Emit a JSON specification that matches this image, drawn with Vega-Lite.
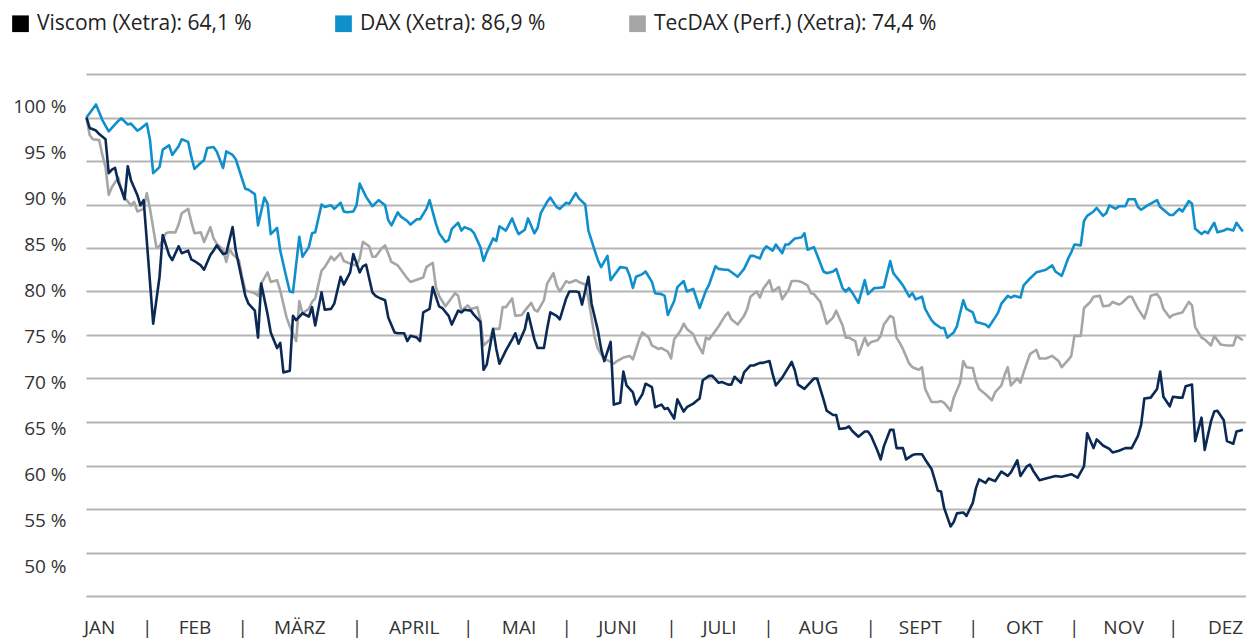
{
  "$schema": "https://vega.github.io/schema/vega-lite/v6.json",
  "width": 1160,
  "height": 522,
  "autosize": {"type": "none"},
  "padding": {"left": 86, "top": 74, "right": 0, "bottom": 43},
  "background": "#ffffff",
  "config": {
    "view": {"stroke": null},
    "font": "Open Sans",
    "axis": {"labelFont": "Open Sans", "labelColor": "#333333", "titleFont": "Open Sans"},
    "legend": {"labelFont": "Open Sans"}
  },
  "data": {"values": [
{"tag":1,"reihe":"TecDAX","wert":100},{"tag":2,"reihe":"TecDAX","wert":98.0},{"tag":3,"reihe":"TecDAX","wert":97.5},{"tag":5,"reihe":"TecDAX","wert":97.4},{"tag":6,"reihe":"TecDAX","wert":95.7},{"tag":7,"reihe":"TecDAX","wert":94.3},{"tag":8,"reihe":"TecDAX","wert":91.1},{"tag":9,"reihe":"TecDAX","wert":92.0},{"tag":11,"reihe":"TecDAX","wert":93.1},{"tag":12,"reihe":"TecDAX","wert":91.7},{"tag":13,"reihe":"TecDAX","wert":90.8},{"tag":15,"reihe":"TecDAX","wert":89.9},{"tag":16,"reihe":"TecDAX","wert":90.3},{"tag":17,"reihe":"TecDAX","wert":89.2},{"tag":19,"reihe":"TecDAX","wert":89.5},{"tag":20,"reihe":"TecDAX","wert":91.3},{"tag":21,"reihe":"TecDAX","wert":89.5},{"tag":23,"reihe":"TecDAX","wert":85.1},{"tag":24,"reihe":"TecDAX","wert":85.2},{"tag":26,"reihe":"TecDAX","wert":86.7},{"tag":27,"reihe":"TecDAX","wert":86.8},{"tag":29,"reihe":"TecDAX","wert":86.8},{"tag":30,"reihe":"TecDAX","wert":87.7},{"tag":31,"reihe":"TecDAX","wert":89.0},{"tag":33,"reihe":"TecDAX","wert":89.5},{"tag":34,"reihe":"TecDAX","wert":88.0},{"tag":35,"reihe":"TecDAX","wert":86.7},{"tag":37,"reihe":"TecDAX","wert":86.8},{"tag":38,"reihe":"TecDAX","wert":85.7},{"tag":40,"reihe":"TecDAX","wert":87.4},{"tag":41,"reihe":"TecDAX","wert":86.1},{"tag":42,"reihe":"TecDAX","wert":85.5},{"tag":44,"reihe":"TecDAX","wert":84.8},{"tag":45,"reihe":"TecDAX","wert":83.4},{"tag":46,"reihe":"TecDAX","wert":84.9},{"tag":47,"reihe":"TecDAX","wert":84.3},{"tag":49,"reihe":"TecDAX","wert":83.6},{"tag":50,"reihe":"TecDAX","wert":81.7},{"tag":51,"reihe":"TecDAX","wert":80.1},{"tag":53,"reihe":"TecDAX","wert":79.9},{"tag":54,"reihe":"TecDAX","wert":79.8},{"tag":55,"reihe":"TecDAX","wert":79.5},{"tag":56,"reihe":"TecDAX","wert":80.9},{"tag":58,"reihe":"TecDAX","wert":82.2},{"tag":59,"reihe":"TecDAX","wert":81.1},{"tag":61,"reihe":"TecDAX","wert":81.3},{"tag":62,"reihe":"TecDAX","wert":80.1},{"tag":64,"reihe":"TecDAX","wert":77.0},{"tag":65,"reihe":"TecDAX","wert":76.0},{"tag":67,"reihe":"TecDAX","wert":74.3},{"tag":68,"reihe":"TecDAX","wert":78.9},{"tag":69,"reihe":"TecDAX","wert":77.5},{"tag":71,"reihe":"TecDAX","wert":78.0},{"tag":72,"reihe":"TecDAX","wert":78.8},{"tag":73,"reihe":"TecDAX","wert":79.2},{"tag":75,"reihe":"TecDAX","wert":82.4},{"tag":76,"reihe":"TecDAX","wert":82.8},{"tag":78,"reihe":"TecDAX","wert":84.0},{"tag":79,"reihe":"TecDAX","wert":83.6},{"tag":81,"reihe":"TecDAX","wert":84.4},{"tag":82,"reihe":"TecDAX","wert":83.5},{"tag":84,"reihe":"TecDAX","wert":83.2},{"tag":86,"reihe":"TecDAX","wert":83.0},{"tag":87,"reihe":"TecDAX","wert":83.8},{"tag":88,"reihe":"TecDAX","wert":85.7},{"tag":90,"reihe":"TecDAX","wert":85.2},{"tag":91,"reihe":"TecDAX","wert":84.0},{"tag":92,"reihe":"TecDAX","wert":84.0},{"tag":94,"reihe":"TecDAX","wert":85.0},{"tag":95,"reihe":"TecDAX","wert":85.3},{"tag":97,"reihe":"TecDAX","wert":83.4},{"tag":99,"reihe":"TecDAX","wert":83.0},{"tag":102,"reihe":"TecDAX","wert":81.5},{"tag":103,"reihe":"TecDAX","wert":81.1},{"tag":107,"reihe":"TecDAX","wert":81.6},{"tag":108,"reihe":"TecDAX","wert":82.8},{"tag":110,"reihe":"TecDAX","wert":83.3},{"tag":111,"reihe":"TecDAX","wert":80.5},{"tag":112,"reihe":"TecDAX","wert":79.5},{"tag":114,"reihe":"TecDAX","wert":78.3},{"tag":115,"reihe":"TecDAX","wert":78.8},{"tag":117,"reihe":"TecDAX","wert":79.8},{"tag":118,"reihe":"TecDAX","wert":79.5},{"tag":119,"reihe":"TecDAX","wert":77.8},{"tag":121,"reihe":"TecDAX","wert":78.4},{"tag":122,"reihe":"TecDAX","wert":78.0},{"tag":124,"reihe":"TecDAX","wert":78.2},{"tag":125,"reihe":"TecDAX","wert":76.8},{"tag":126,"reihe":"TecDAX","wert":73.8},{"tag":128,"reihe":"TecDAX","wert":74.5},{"tag":129,"reihe":"TecDAX","wert":75.7},{"tag":131,"reihe":"TecDAX","wert":75.7},{"tag":132,"reihe":"TecDAX","wert":78.2},{"tag":133,"reihe":"TecDAX","wert":78.2},{"tag":135,"reihe":"TecDAX","wert":79.2},{"tag":136,"reihe":"TecDAX","wert":77.2},{"tag":138,"reihe":"TecDAX","wert":77.3},{"tag":139,"reihe":"TecDAX","wert":77.8},{"tag":141,"reihe":"TecDAX","wert":78.7},{"tag":142,"reihe":"TecDAX","wert":77.9},{"tag":143,"reihe":"TecDAX","wert":77.7},{"tag":145,"reihe":"TecDAX","wert":79.0},{"tag":146,"reihe":"TecDAX","wert":80.9},{"tag":148,"reihe":"TecDAX","wert":82.1},{"tag":149,"reihe":"TecDAX","wert":80.7},{"tag":150,"reihe":"TecDAX","wert":80.0},{"tag":152,"reihe":"TecDAX","wert":81.2},{"tag":153,"reihe":"TecDAX","wert":81.0},{"tag":155,"reihe":"TecDAX","wert":81.3},{"tag":156,"reihe":"TecDAX","wert":81.1},{"tag":158,"reihe":"TecDAX","wert":80.8},{"tag":159,"reihe":"TecDAX","wert":79.2},{"tag":161,"reihe":"TecDAX","wert":74.7},{"tag":162,"reihe":"TecDAX","wert":73.4},{"tag":164,"reihe":"TecDAX","wert":72.2},{"tag":165,"reihe":"TecDAX","wert":72.1},{"tag":167,"reihe":"TecDAX","wert":71.7},{"tag":168,"reihe":"TecDAX","wert":72.0},{"tag":170,"reihe":"TecDAX","wert":72.4},{"tag":172,"reihe":"TecDAX","wert":72.6},{"tag":173,"reihe":"TecDAX","wert":72.2},{"tag":175,"reihe":"TecDAX","wert":74.5},{"tag":176,"reihe":"TecDAX","wert":75.3},{"tag":178,"reihe":"TecDAX","wert":74.7},{"tag":179,"reihe":"TecDAX","wert":73.8},{"tag":181,"reihe":"TecDAX","wert":73.4},{"tag":182,"reihe":"TecDAX","wert":73.5},{"tag":184,"reihe":"TecDAX","wert":73.1},{"tag":185,"reihe":"TecDAX","wert":72.3},{"tag":186,"reihe":"TecDAX","wert":74.5},{"tag":188,"reihe":"TecDAX","wert":75.5},{"tag":189,"reihe":"TecDAX","wert":76.3},{"tag":190,"reihe":"TecDAX","wert":75.7},{"tag":192,"reihe":"TecDAX","wert":75.1},{"tag":193,"reihe":"TecDAX","wert":74.2},{"tag":195,"reihe":"TecDAX","wert":72.9},{"tag":196,"reihe":"TecDAX","wert":74.7},{"tag":197,"reihe":"TecDAX","wert":74.5},{"tag":199,"reihe":"TecDAX","wert":75.5},{"tag":200,"reihe":"TecDAX","wert":76.0},{"tag":202,"reihe":"TecDAX","wert":77.2},{"tag":203,"reihe":"TecDAX","wert":77.6},{"tag":204,"reihe":"TecDAX","wert":76.8},{"tag":206,"reihe":"TecDAX","wert":76.2},{"tag":208,"reihe":"TecDAX","wert":77.2},{"tag":209,"reihe":"TecDAX","wert":78.0},{"tag":210,"reihe":"TecDAX","wert":79.4},{"tag":212,"reihe":"TecDAX","wert":80.0},{"tag":213,"reihe":"TecDAX","wert":79.3},{"tag":214,"reihe":"TecDAX","wert":80.3},{"tag":216,"reihe":"TecDAX","wert":81.3},{"tag":217,"reihe":"TecDAX","wert":80.0},{"tag":219,"reihe":"TecDAX","wert":80.5},{"tag":220,"reihe":"TecDAX","wert":79.1},{"tag":222,"reihe":"TecDAX","wert":80.2},{"tag":223,"reihe":"TecDAX","wert":81.2},{"tag":225,"reihe":"TecDAX","wert":81.2},{"tag":226,"reihe":"TecDAX","wert":81.1},{"tag":228,"reihe":"TecDAX","wert":80.7},{"tag":229,"reihe":"TecDAX","wert":79.8},{"tag":230,"reihe":"TecDAX","wert":79.7},{"tag":232,"reihe":"TecDAX","wert":78.8},{"tag":233,"reihe":"TecDAX","wert":77.6},{"tag":234,"reihe":"TecDAX","wert":76.3},{"tag":236,"reihe":"TecDAX","wert":77.0},{"tag":237,"reihe":"TecDAX","wert":77.8},{"tag":239,"reihe":"TecDAX","wert":76.1},{"tag":240,"reihe":"TecDAX","wert":74.7},{"tag":241,"reihe":"TecDAX","wert":74.7},{"tag":243,"reihe":"TecDAX","wert":74.3},{"tag":244,"reihe":"TecDAX","wert":72.7},{"tag":246,"reihe":"TecDAX","wert":74.7},{"tag":247,"reihe":"TecDAX","wert":73.8},{"tag":248,"reihe":"TecDAX","wert":74.2},{"tag":250,"reihe":"TecDAX","wert":74.4},{"tag":251,"reihe":"TecDAX","wert":74.9},{"tag":252,"reihe":"TecDAX","wert":76.2},{"tag":254,"reihe":"TecDAX","wert":77.2},{"tag":255,"reihe":"TecDAX","wert":77.0},{"tag":256,"reihe":"TecDAX","wert":74.7},{"tag":257,"reihe":"TecDAX","wert":74.1},{"tag":258,"reihe":"TecDAX","wert":73.4},{"tag":260,"reihe":"TecDAX","wert":71.7},{"tag":261,"reihe":"TecDAX","wert":71.3},{"tag":263,"reihe":"TecDAX","wert":71.0},{"tag":264,"reihe":"TecDAX","wert":71.3},{"tag":265,"reihe":"TecDAX","wert":68.8},{"tag":267,"reihe":"TecDAX","wert":67.3},{"tag":269,"reihe":"TecDAX","wert":67.3},{"tag":270,"reihe":"TecDAX","wert":67.4},{"tag":271,"reihe":"TecDAX","wert":67.2},{"tag":273,"reihe":"TecDAX","wert":66.3},{"tag":274,"reihe":"TecDAX","wert":67.8},{"tag":276,"reihe":"TecDAX","wert":69.5},{"tag":277,"reihe":"TecDAX","wert":72.0},{"tag":278,"reihe":"TecDAX","wert":71.3},{"tag":280,"reihe":"TecDAX","wert":71.2},{"tag":281,"reihe":"TecDAX","wert":69.7},{"tag":282,"reihe":"TecDAX","wert":68.8},{"tag":284,"reihe":"TecDAX","wert":68.2},{"tag":286,"reihe":"TecDAX","wert":67.5},{"tag":287,"reihe":"TecDAX","wert":68.4},{"tag":289,"reihe":"TecDAX","wert":69.2},{"tag":290,"reihe":"TecDAX","wert":70.4},{"tag":291,"reihe":"TecDAX","wert":71.3},{"tag":292,"reihe":"TecDAX","wert":69.2},{"tag":294,"reihe":"TecDAX","wert":70.0},{"tag":295,"reihe":"TecDAX","wert":69.5},{"tag":296,"reihe":"TecDAX","wert":70.7},{"tag":298,"reihe":"TecDAX","wert":72.8},{"tag":300,"reihe":"TecDAX","wert":73.3},{"tag":301,"reihe":"TecDAX","wert":72.3},{"tag":303,"reihe":"TecDAX","wert":72.3},{"tag":305,"reihe":"TecDAX","wert":72.6},{"tag":307,"reihe":"TecDAX","wert":72.0},{"tag":308,"reihe":"TecDAX","wert":71.3},{"tag":310,"reihe":"TecDAX","wert":72.1},{"tag":311,"reihe":"TecDAX","wert":72.6},{"tag":312,"reihe":"TecDAX","wert":74.9},{"tag":314,"reihe":"TecDAX","wert":74.9},{"tag":315,"reihe":"TecDAX","wert":78.1},{"tag":317,"reihe":"TecDAX","wert":78.8},{"tag":318,"reihe":"TecDAX","wert":79.4},{"tag":320,"reihe":"TecDAX","wert":79.5},{"tag":321,"reihe":"TecDAX","wert":78.3},{"tag":323,"reihe":"TecDAX","wert":78.4},{"tag":324,"reihe":"TecDAX","wert":78.8},{"tag":326,"reihe":"TecDAX","wert":78.5},{"tag":327,"reihe":"TecDAX","wert":78.7},{"tag":329,"reihe":"TecDAX","wert":79.4},{"tag":330,"reihe":"TecDAX","wert":79.4},{"tag":332,"reihe":"TecDAX","wert":78.0},{"tag":334,"reihe":"TecDAX","wert":76.9},{"tag":335,"reihe":"TecDAX","wert":78.1},{"tag":336,"reihe":"TecDAX","wert":79.5},{"tag":338,"reihe":"TecDAX","wert":79.7},{"tag":339,"reihe":"TecDAX","wert":79.2},{"tag":340,"reihe":"TecDAX","wert":78.0},{"tag":342,"reihe":"TecDAX","wert":77.0},{"tag":343,"reihe":"TecDAX","wert":77.3},{"tag":345,"reihe":"TecDAX","wert":77.5},{"tag":346,"reihe":"TecDAX","wert":77.6},{"tag":348,"reihe":"TecDAX","wert":78.8},{"tag":349,"reihe":"TecDAX","wert":78.4},{"tag":350,"reihe":"TecDAX","wert":75.9},{"tag":352,"reihe":"TecDAX","wert":74.7},{"tag":353,"reihe":"TecDAX","wert":74.5},{"tag":355,"reihe":"TecDAX","wert":73.8},{"tag":356,"reihe":"TecDAX","wert":74.9},{"tag":358,"reihe":"TecDAX","wert":73.9},{"tag":360,"reihe":"TecDAX","wert":73.8},{"tag":362,"reihe":"TecDAX","wert":73.8},{"tag":363,"reihe":"TecDAX","wert":74.9},{"tag":365,"reihe":"TecDAX","wert":74.4},
{"tag":1,"reihe":"DAX","wert":100},{"tag":4,"reihe":"DAX","wert":101.5},{"tag":6,"reihe":"DAX","wert":99.7},{"tag":8,"reihe":"DAX","wert":98.4},{"tag":11,"reihe":"DAX","wert":99.6},{"tag":12,"reihe":"DAX","wert":99.9},{"tag":14,"reihe":"DAX","wert":99.2},{"tag":15,"reihe":"DAX","wert":99.3},{"tag":17,"reihe":"DAX","wert":98.5},{"tag":18,"reihe":"DAX","wert":98.7},{"tag":20,"reihe":"DAX","wert":99.3},{"tag":21,"reihe":"DAX","wert":97.4},{"tag":22,"reihe":"DAX","wert":93.6},{"tag":24,"reihe":"DAX","wert":94.3},{"tag":25,"reihe":"DAX","wert":96.3},{"tag":27,"reihe":"DAX","wert":96.8},{"tag":28,"reihe":"DAX","wert":95.7},{"tag":30,"reihe":"DAX","wert":96.7},{"tag":31,"reihe":"DAX","wert":97.5},{"tag":33,"reihe":"DAX","wert":97.2},{"tag":34,"reihe":"DAX","wert":95.5},{"tag":35,"reihe":"DAX","wert":94.1},{"tag":37,"reihe":"DAX","wert":94.8},{"tag":38,"reihe":"DAX","wert":95.1},{"tag":39,"reihe":"DAX","wert":96.5},{"tag":41,"reihe":"DAX","wert":96.6},{"tag":42,"reihe":"DAX","wert":96.1},{"tag":44,"reihe":"DAX","wert":94.2},{"tag":45,"reihe":"DAX","wert":96.1},{"tag":47,"reihe":"DAX","wert":95.7},{"tag":48,"reihe":"DAX","wert":95.2},{"tag":51,"reihe":"DAX","wert":91.8},{"tag":52,"reihe":"DAX","wert":91.7},{"tag":54,"reihe":"DAX","wert":91.2},{"tag":55,"reihe":"DAX","wert":87.6},{"tag":57,"reihe":"DAX","wert":90.8},{"tag":58,"reihe":"DAX","wert":90.1},{"tag":59,"reihe":"DAX","wert":86.6},{"tag":61,"reihe":"DAX","wert":87.3},{"tag":62,"reihe":"DAX","wert":84.7},{"tag":64,"reihe":"DAX","wert":81.5},{"tag":65,"reihe":"DAX","wert":80.0},{"tag":66,"reihe":"DAX","wert":79.9},{"tag":68,"reihe":"DAX","wert":86.3},{"tag":69,"reihe":"DAX","wert":84.0},{"tag":71,"reihe":"DAX","wert":85.1},{"tag":72,"reihe":"DAX","wert":86.7},{"tag":73,"reihe":"DAX","wert":86.8},{"tag":75,"reihe":"DAX","wert":90.0},{"tag":76,"reihe":"DAX","wert":89.7},{"tag":78,"reihe":"DAX","wert":89.9},{"tag":79,"reihe":"DAX","wert":89.5},{"tag":81,"reihe":"DAX","wert":90.2},{"tag":82,"reihe":"DAX","wert":89.2},{"tag":83,"reihe":"DAX","wert":89.1},{"tag":85,"reihe":"DAX","wert":89.2},{"tag":86,"reihe":"DAX","wert":89.9},{"tag":87,"reihe":"DAX","wert":92.4},{"tag":89,"reihe":"DAX","wert":90.9},{"tag":91,"reihe":"DAX","wert":89.8},{"tag":93,"reihe":"DAX","wert":90.5},{"tag":95,"reihe":"DAX","wert":89.9},{"tag":96,"reihe":"DAX","wert":88.2},{"tag":97,"reihe":"DAX","wert":87.6},{"tag":99,"reihe":"DAX","wert":89.1},{"tag":100,"reihe":"DAX","wert":88.6},{"tag":102,"reihe":"DAX","wert":88.1},{"tag":103,"reihe":"DAX","wert":87.7},{"tag":105,"reihe":"DAX","wert":88.3},{"tag":106,"reihe":"DAX","wert":88.3},{"tag":108,"reihe":"DAX","wert":89.5},{"tag":109,"reihe":"DAX","wert":90.5},{"tag":111,"reihe":"DAX","wert":87.8},{"tag":112,"reihe":"DAX","wert":86.7},{"tag":114,"reihe":"DAX","wert":85.7},{"tag":115,"reihe":"DAX","wert":85.9},{"tag":116,"reihe":"DAX","wert":87.2},{"tag":118,"reihe":"DAX","wert":87.9},{"tag":119,"reihe":"DAX","wert":87.0},{"tag":120,"reihe":"DAX","wert":87.4},{"tag":122,"reihe":"DAX","wert":87.1},{"tag":123,"reihe":"DAX","wert":86.7},{"tag":125,"reihe":"DAX","wert":85.1},{"tag":126,"reihe":"DAX","wert":83.5},{"tag":127,"reihe":"DAX","wert":84.5},{"tag":129,"reihe":"DAX","wert":86.1},{"tag":130,"reihe":"DAX","wert":85.8},{"tag":131,"reihe":"DAX","wert":87.5},{"tag":133,"reihe":"DAX","wert":87.0},{"tag":135,"reihe":"DAX","wert":88.4},{"tag":136,"reihe":"DAX","wert":87.4},{"tag":137,"reihe":"DAX","wert":86.6},{"tag":139,"reihe":"DAX","wert":87.1},{"tag":140,"reihe":"DAX","wert":88.4},{"tag":142,"reihe":"DAX","wert":86.7},{"tag":143,"reihe":"DAX","wert":87.3},{"tag":144,"reihe":"DAX","wert":89.0},{"tag":146,"reihe":"DAX","wert":90.3},{"tag":147,"reihe":"DAX","wert":90.8},{"tag":149,"reihe":"DAX","wert":89.7},{"tag":150,"reihe":"DAX","wert":89.5},{"tag":152,"reihe":"DAX","wert":90.2},{"tag":153,"reihe":"DAX","wert":90.1},{"tag":155,"reihe":"DAX","wert":91.3},{"tag":156,"reihe":"DAX","wert":90.7},{"tag":158,"reihe":"DAX","wert":90.0},{"tag":159,"reihe":"DAX","wert":87.0},{"tag":161,"reihe":"DAX","wert":84.7},{"tag":162,"reihe":"DAX","wert":83.6},{"tag":163,"reihe":"DAX","wert":82.8},{"tag":165,"reihe":"DAX","wert":84.1},{"tag":166,"reihe":"DAX","wert":81.3},{"tag":167,"reihe":"DAX","wert":81.8},{"tag":169,"reihe":"DAX","wert":82.8},{"tag":171,"reihe":"DAX","wert":82.7},{"tag":172,"reihe":"DAX","wert":81.8},{"tag":173,"reihe":"DAX","wert":80.4},{"tag":174,"reihe":"DAX","wert":81.7},{"tag":176,"reihe":"DAX","wert":82.0},{"tag":177,"reihe":"DAX","wert":82.3},{"tag":179,"reihe":"DAX","wert":81.1},{"tag":180,"reihe":"DAX","wert":79.8},{"tag":182,"reihe":"DAX","wert":79.7},{"tag":183,"reihe":"DAX","wert":79.5},{"tag":184,"reihe":"DAX","wert":77.3},{"tag":186,"reihe":"DAX","wert":78.9},{"tag":187,"reihe":"DAX","wert":80.5},{"tag":189,"reihe":"DAX","wert":81.2},{"tag":190,"reihe":"DAX","wert":80.0},{"tag":192,"reihe":"DAX","wert":80.3},{"tag":193,"reihe":"DAX","wert":79.2},{"tag":194,"reihe":"DAX","wert":78.1},{"tag":196,"reihe":"DAX","wert":80.1},{"tag":197,"reihe":"DAX","wert":80.8},{"tag":199,"reihe":"DAX","wert":82.9},{"tag":200,"reihe":"DAX","wert":82.6},{"tag":202,"reihe":"DAX","wert":82.5},{"tag":203,"reihe":"DAX","wert":82.5},{"tag":206,"reihe":"DAX","wert":81.7},{"tag":208,"reihe":"DAX","wert":82.6},{"tag":210,"reihe":"DAX","wert":84.1},{"tag":211,"reihe":"DAX","wert":84.1},{"tag":213,"reihe":"DAX","wert":83.8},{"tag":214,"reihe":"DAX","wert":84.7},{"tag":215,"reihe":"DAX","wert":85.2},{"tag":217,"reihe":"DAX","wert":84.7},{"tag":218,"reihe":"DAX","wert":85.4},{"tag":220,"reihe":"DAX","wert":84.4},{"tag":221,"reihe":"DAX","wert":85.4},{"tag":222,"reihe":"DAX","wert":85.4},{"tag":224,"reihe":"DAX","wert":86.1},{"tag":226,"reihe":"DAX","wert":86.2},{"tag":227,"reihe":"DAX","wert":86.7},{"tag":228,"reihe":"DAX","wert":84.8},{"tag":230,"reihe":"DAX","wert":85.1},{"tag":231,"reihe":"DAX","wert":84.2},{"tag":233,"reihe":"DAX","wert":82.3},{"tag":234,"reihe":"DAX","wert":82.1},{"tag":236,"reihe":"DAX","wert":82.3},{"tag":237,"reihe":"DAX","wert":82.6},{"tag":239,"reihe":"DAX","wert":80.4},{"tag":240,"reihe":"DAX","wert":80.0},{"tag":241,"reihe":"DAX","wert":80.4},{"tag":242,"reihe":"DAX","wert":79.9},{"tag":244,"reihe":"DAX","wert":78.7},{"tag":246,"reihe":"DAX","wert":81.3},{"tag":247,"reihe":"DAX","wert":79.7},{"tag":249,"reihe":"DAX","wert":80.4},{"tag":250,"reihe":"DAX","wert":80.4},{"tag":252,"reihe":"DAX","wert":80.5},{"tag":254,"reihe":"DAX","wert":83.5},{"tag":255,"reihe":"DAX","wert":82.1},{"tag":257,"reihe":"DAX","wert":81.2},{"tag":258,"reihe":"DAX","wert":80.7},{"tag":260,"reihe":"DAX","wert":79.4},{"tag":261,"reihe":"DAX","wert":79.8},{"tag":262,"reihe":"DAX","wert":79.1},{"tag":264,"reihe":"DAX","wert":79.4},{"tag":265,"reihe":"DAX","wert":78.0},{"tag":267,"reihe":"DAX","wert":76.7},{"tag":268,"reihe":"DAX","wert":76.3},{"tag":270,"reihe":"DAX","wert":75.8},{"tag":271,"reihe":"DAX","wert":75.8},{"tag":272,"reihe":"DAX","wert":74.7},{"tag":274,"reihe":"DAX","wert":75.3},{"tag":275,"reihe":"DAX","wert":76.0},{"tag":277,"reihe":"DAX","wert":79.0},{"tag":278,"reihe":"DAX","wert":78.0},{"tag":279,"reihe":"DAX","wert":77.8},{"tag":280,"reihe":"DAX","wert":77.6},{"tag":281,"reihe":"DAX","wert":76.5},{"tag":282,"reihe":"DAX","wert":76.4},{"tag":284,"reihe":"DAX","wert":76.2},{"tag":285,"reihe":"DAX","wert":75.9},{"tag":287,"reihe":"DAX","wert":77.0},{"tag":288,"reihe":"DAX","wert":77.6},{"tag":289,"reihe":"DAX","wert":78.6},{"tag":291,"reihe":"DAX","wert":79.5},{"tag":292,"reihe":"DAX","wert":79.3},{"tag":293,"reihe":"DAX","wert":79.5},{"tag":295,"reihe":"DAX","wert":79.3},{"tag":296,"reihe":"DAX","wert":80.7},{"tag":298,"reihe":"DAX","wert":81.5},{"tag":300,"reihe":"DAX","wert":82.2},{"tag":301,"reihe":"DAX","wert":82.3},{"tag":303,"reihe":"DAX","wert":82.5},{"tag":305,"reihe":"DAX","wert":83.0},{"tag":306,"reihe":"DAX","wert":82.3},{"tag":308,"reihe":"DAX","wert":81.8},{"tag":310,"reihe":"DAX","wert":83.8},{"tag":311,"reihe":"DAX","wert":84.5},{"tag":312,"reihe":"DAX","wert":85.4},{"tag":314,"reihe":"DAX","wert":85.3},{"tag":315,"reihe":"DAX","wert":88.1},{"tag":316,"reihe":"DAX","wert":88.7},{"tag":318,"reihe":"DAX","wert":89.2},{"tag":319,"reihe":"DAX","wert":89.6},{"tag":321,"reihe":"DAX","wert":88.7},{"tag":322,"reihe":"DAX","wert":89.0},{"tag":323,"reihe":"DAX","wert":89.9},{"tag":325,"reihe":"DAX","wert":89.5},{"tag":326,"reihe":"DAX","wert":89.8},{"tag":328,"reihe":"DAX","wert":89.8},{"tag":329,"reihe":"DAX","wert":90.6},{"tag":331,"reihe":"DAX","wert":90.6},{"tag":332,"reihe":"DAX","wert":89.7},{"tag":333,"reihe":"DAX","wert":89.4},{"tag":335,"reihe":"DAX","wert":89.9},{"tag":338,"reihe":"DAX","wert":90.5},{"tag":339,"reihe":"DAX","wert":89.7},{"tag":342,"reihe":"DAX","wert":88.8},{"tag":343,"reihe":"DAX","wert":88.8},{"tag":345,"reihe":"DAX","wert":89.5},{"tag":346,"reihe":"DAX","wert":89.2},{"tag":348,"reihe":"DAX","wert":90.4},{"tag":349,"reihe":"DAX","wert":90.1},{"tag":350,"reihe":"DAX","wert":87.2},{"tag":352,"reihe":"DAX","wert":86.6},{"tag":353,"reihe":"DAX","wert":86.9},{"tag":354,"reihe":"DAX","wert":86.7},{"tag":356,"reihe":"DAX","wert":87.9},{"tag":357,"reihe":"DAX","wert":86.8},{"tag":359,"reihe":"DAX","wert":87.0},{"tag":360,"reihe":"DAX","wert":87.2},{"tag":362,"reihe":"DAX","wert":87.0},{"tag":363,"reihe":"DAX","wert":87.9},{"tag":365,"reihe":"DAX","wert":86.9},
{"tag":1,"reihe":"Viscom","wert":100},{"tag":2,"reihe":"Viscom","wert":98.8},{"tag":4,"reihe":"Viscom","wert":98.5},{"tag":5,"reihe":"Viscom","wert":98.1},{"tag":7,"reihe":"Viscom","wert":97.5},{"tag":8,"reihe":"Viscom","wert":93.6},{"tag":9,"reihe":"Viscom","wert":94.0},{"tag":10,"reihe":"Viscom","wert":94.2},{"tag":11,"reihe":"Viscom","wert":92.6},{"tag":12,"reihe":"Viscom","wert":91.7},{"tag":13,"reihe":"Viscom","wert":90.6},{"tag":14,"reihe":"Viscom","wert":94.4},{"tag":15,"reihe":"Viscom","wert":92.8},{"tag":17,"reihe":"Viscom","wert":91.1},{"tag":18,"reihe":"Viscom","wert":89.9},{"tag":19,"reihe":"Viscom","wert":90.5},{"tag":22,"reihe":"Viscom","wert":76.3},{"tag":24,"reihe":"Viscom","wert":81.7},{"tag":25,"reihe":"Viscom","wert":86.5},{"tag":27,"reihe":"Viscom","wert":84.2},{"tag":28,"reihe":"Viscom","wert":83.6},{"tag":30,"reihe":"Viscom","wert":85.2},{"tag":31,"reihe":"Viscom","wert":84.4},{"tag":33,"reihe":"Viscom","wert":84.7},{"tag":34,"reihe":"Viscom","wert":83.7},{"tag":35,"reihe":"Viscom","wert":83.5},{"tag":37,"reihe":"Viscom","wert":83.0},{"tag":38,"reihe":"Viscom","wert":82.5},{"tag":40,"reihe":"Viscom","wert":84.2},{"tag":41,"reihe":"Viscom","wert":84.7},{"tag":42,"reihe":"Viscom","wert":85.3},{"tag":44,"reihe":"Viscom","wert":84.3},{"tag":45,"reihe":"Viscom","wert":84.4},{"tag":47,"reihe":"Viscom","wert":87.4},{"tag":48,"reihe":"Viscom","wert":84.7},{"tag":51,"reihe":"Viscom","wert":79.5},{"tag":52,"reihe":"Viscom","wert":78.6},{"tag":54,"reihe":"Viscom","wert":77.8},{"tag":55,"reihe":"Viscom","wert":74.7},{"tag":56,"reihe":"Viscom","wert":80.9},{"tag":58,"reihe":"Viscom","wert":77.4},{"tag":59,"reihe":"Viscom","wert":75.3},{"tag":61,"reihe":"Viscom","wert":73.5},{"tag":62,"reihe":"Viscom","wert":74.1},{"tag":63,"reihe":"Viscom","wert":70.7},{"tag":65,"reihe":"Viscom","wert":70.9},{"tag":66,"reihe":"Viscom","wert":77.2},{"tag":67,"reihe":"Viscom","wert":76.7},{"tag":69,"reihe":"Viscom","wert":77.5},{"tag":71,"reihe":"Viscom","wert":77.1},{"tag":72,"reihe":"Viscom","wert":78.2},{"tag":73,"reihe":"Viscom","wert":76.1},{"tag":75,"reihe":"Viscom","wert":79.9},{"tag":76,"reihe":"Viscom","wert":77.9},{"tag":78,"reihe":"Viscom","wert":78.0},{"tag":79,"reihe":"Viscom","wert":78.6},{"tag":81,"reihe":"Viscom","wert":81.7},{"tag":82,"reihe":"Viscom","wert":80.8},{"tag":84,"reihe":"Viscom","wert":82.2},{"tag":85,"reihe":"Viscom","wert":84.3},{"tag":87,"reihe":"Viscom","wert":82.2},{"tag":88,"reihe":"Viscom","wert":82.9},{"tag":89,"reihe":"Viscom","wert":83.1},{"tag":91,"reihe":"Viscom","wert":79.9},{"tag":92,"reihe":"Viscom","wert":79.5},{"tag":93,"reihe":"Viscom","wert":79.3},{"tag":95,"reihe":"Viscom","wert":79.0},{"tag":96,"reihe":"Viscom","wert":77.0},{"tag":98,"reihe":"Viscom","wert":75.3},{"tag":99,"reihe":"Viscom","wert":75.2},{"tag":101,"reihe":"Viscom","wert":75.2},{"tag":102,"reihe":"Viscom","wert":74.3},{"tag":103,"reihe":"Viscom","wert":74.9},{"tag":105,"reihe":"Viscom","wert":74.7},{"tag":106,"reihe":"Viscom","wert":74.3},{"tag":107,"reihe":"Viscom","wert":77.6},{"tag":109,"reihe":"Viscom","wert":78.0},{"tag":110,"reihe":"Viscom","wert":80.5},{"tag":112,"reihe":"Viscom","wert":78.3},{"tag":113,"reihe":"Viscom","wert":78.1},{"tag":115,"reihe":"Viscom","wert":77.2},{"tag":116,"reihe":"Viscom","wert":76.2},{"tag":118,"reihe":"Viscom","wert":77.8},{"tag":119,"reihe":"Viscom","wert":77.6},{"tag":120,"reihe":"Viscom","wert":77.9},{"tag":122,"reihe":"Viscom","wert":77.8},{"tag":123,"reihe":"Viscom","wert":77.3},{"tag":125,"reihe":"Viscom","wert":76.5},{"tag":126,"reihe":"Viscom","wert":71.0},{"tag":127,"reihe":"Viscom","wert":71.6},{"tag":129,"reihe":"Viscom","wert":75.7},{"tag":130,"reihe":"Viscom","wert":73.4},{"tag":131,"reihe":"Viscom","wert":71.7},{"tag":133,"reihe":"Viscom","wert":73.2},{"tag":135,"reihe":"Viscom","wert":74.5},{"tag":136,"reihe":"Viscom","wert":75.2},{"tag":137,"reihe":"Viscom","wert":74.0},{"tag":139,"reihe":"Viscom","wert":75.7},{"tag":140,"reihe":"Viscom","wert":77.5},{"tag":142,"reihe":"Viscom","wert":74.5},{"tag":143,"reihe":"Viscom","wert":73.5},{"tag":145,"reihe":"Viscom","wert":73.5},{"tag":146,"reihe":"Viscom","wert":75.7},{"tag":147,"reihe":"Viscom","wert":77.6},{"tag":149,"reihe":"Viscom","wert":77.2},{"tag":150,"reihe":"Viscom","wert":76.8},{"tag":152,"reihe":"Viscom","wert":79.2},{"tag":153,"reihe":"Viscom","wert":80.0},{"tag":155,"reihe":"Viscom","wert":80.0},{"tag":156,"reihe":"Viscom","wert":79.9},{"tag":157,"reihe":"Viscom","wert":78.5},{"tag":159,"reihe":"Viscom","wert":81.7},{"tag":160,"reihe":"Viscom","wert":78.6},{"tag":162,"reihe":"Viscom","wert":75.5},{"tag":163,"reihe":"Viscom","wert":73.4},{"tag":164,"reihe":"Viscom","wert":72.0},{"tag":166,"reihe":"Viscom","wert":74.2},{"tag":167,"reihe":"Viscom","wert":67.0},{"tag":169,"reihe":"Viscom","wert":67.2},{"tag":170,"reihe":"Viscom","wert":70.8},{"tag":171,"reihe":"Viscom","wert":69.2},{"tag":173,"reihe":"Viscom","wert":68.4},{"tag":174,"reihe":"Viscom","wert":67.0},{"tag":176,"reihe":"Viscom","wert":68.2},{"tag":177,"reihe":"Viscom","wert":69.4},{"tag":179,"reihe":"Viscom","wert":69.0},{"tag":180,"reihe":"Viscom","wert":66.7},{"tag":182,"reihe":"Viscom","wert":67.0},{"tag":183,"reihe":"Viscom","wert":66.5},{"tag":184,"reihe":"Viscom","wert":66.6},{"tag":186,"reihe":"Viscom","wert":65.4},{"tag":187,"reihe":"Viscom","wert":67.6},{"tag":189,"reihe":"Viscom","wert":66.2},{"tag":190,"reihe":"Viscom","wert":66.7},{"tag":192,"reihe":"Viscom","wert":67.1},{"tag":193,"reihe":"Viscom","wert":67.4},{"tag":194,"reihe":"Viscom","wert":67.7},{"tag":195,"reihe":"Viscom","wert":69.8},{"tag":197,"reihe":"Viscom","wert":70.3},{"tag":198,"reihe":"Viscom","wert":70.3},{"tag":200,"reihe":"Viscom","wert":69.5},{"tag":201,"reihe":"Viscom","wert":69.6},{"tag":203,"reihe":"Viscom","wert":69.3},{"tag":204,"reihe":"Viscom","wert":69.3},{"tag":205,"reihe":"Viscom","wert":70.2},{"tag":207,"reihe":"Viscom","wert":69.5},{"tag":208,"reihe":"Viscom","wert":70.7},{"tag":210,"reihe":"Viscom","wert":71.5},{"tag":211,"reihe":"Viscom","wert":71.5},{"tag":213,"reihe":"Viscom","wert":71.8},{"tag":214,"reihe":"Viscom","wert":71.8},{"tag":216,"reihe":"Viscom","wert":72.0},{"tag":217,"reihe":"Viscom","wert":70.5},{"tag":218,"reihe":"Viscom","wert":69.2},{"tag":220,"reihe":"Viscom","wert":70.1},{"tag":221,"reihe":"Viscom","wert":70.7},{"tag":223,"reihe":"Viscom","wert":71.9},{"tag":224,"reihe":"Viscom","wert":70.9},{"tag":225,"reihe":"Viscom","wert":69.3},{"tag":227,"reihe":"Viscom","wert":68.8},{"tag":228,"reihe":"Viscom","wert":69.2},{"tag":230,"reihe":"Viscom","wert":70.0},{"tag":231,"reihe":"Viscom","wert":70.0},{"tag":233,"reihe":"Viscom","wert":67.6},{"tag":234,"reihe":"Viscom","wert":66.3},{"tag":236,"reihe":"Viscom","wert":65.8},{"tag":237,"reihe":"Viscom","wert":65.8},{"tag":238,"reihe":"Viscom","wert":64.2},{"tag":240,"reihe":"Viscom","wert":64.3},{"tag":241,"reihe":"Viscom","wert":64.5},{"tag":242,"reihe":"Viscom","wert":64.0},{"tag":244,"reihe":"Viscom","wert":63.3},{"tag":246,"reihe":"Viscom","wert":63.9},{"tag":247,"reihe":"Viscom","wert":63.9},{"tag":248,"reihe":"Viscom","wert":63.4},{"tag":250,"reihe":"Viscom","wert":61.7},{"tag":251,"reihe":"Viscom","wert":60.7},{"tag":252,"reihe":"Viscom","wert":62.2},{"tag":254,"reihe":"Viscom","wert":64.1},{"tag":255,"reihe":"Viscom","wert":64.1},{"tag":256,"reihe":"Viscom","wert":62.0},{"tag":258,"reihe":"Viscom","wert":62.0},{"tag":259,"reihe":"Viscom","wert":60.7},{"tag":261,"reihe":"Viscom","wert":61.2},{"tag":262,"reihe":"Viscom","wert":61.3},{"tag":264,"reihe":"Viscom","wert":61.3},{"tag":265,"reihe":"Viscom","wert":60.7},{"tag":267,"reihe":"Viscom","wert":59.6},{"tag":268,"reihe":"Viscom","wert":58.4},{"tag":269,"reihe":"Viscom","wert":57.1},{"tag":270,"reihe":"Viscom","wert":57.0},{"tag":271,"reihe":"Viscom","wert":55.1},{"tag":273,"reihe":"Viscom","wert":53.0},{"tag":274,"reihe":"Viscom","wert":53.5},{"tag":275,"reihe":"Viscom","wert":54.5},{"tag":277,"reihe":"Viscom","wert":54.6},{"tag":278,"reihe":"Viscom","wert":54.2},{"tag":280,"reihe":"Viscom","wert":55.7},{"tag":281,"reihe":"Viscom","wert":57.4},{"tag":282,"reihe":"Viscom","wert":58.4},{"tag":284,"reihe":"Viscom","wert":58.0},{"tag":285,"reihe":"Viscom","wert":58.5},{"tag":287,"reihe":"Viscom","wert":58.2},{"tag":289,"reihe":"Viscom","wert":59.3},{"tag":291,"reihe":"Viscom","wert":58.8},{"tag":292,"reihe":"Viscom","wert":59.2},{"tag":294,"reihe":"Viscom","wert":60.6},{"tag":295,"reihe":"Viscom","wert":58.8},{"tag":297,"reihe":"Viscom","wert":59.9},{"tag":298,"reihe":"Viscom","wert":60.1},{"tag":299,"reihe":"Viscom","wert":59.4},{"tag":301,"reihe":"Viscom","wert":58.3},{"tag":303,"reihe":"Viscom","wert":58.5},{"tag":306,"reihe":"Viscom","wert":58.8},{"tag":308,"reihe":"Viscom","wert":58.7},{"tag":311,"reihe":"Viscom","wert":59.0},{"tag":313,"reihe":"Viscom","wert":58.6},{"tag":315,"reihe":"Viscom","wert":59.9},{"tag":316,"reihe":"Viscom","wert":63.7},{"tag":318,"reihe":"Viscom","wert":62.0},{"tag":319,"reihe":"Viscom","wert":63.0},{"tag":321,"reihe":"Viscom","wert":62.3},{"tag":323,"reihe":"Viscom","wert":61.9},{"tag":324,"reihe":"Viscom","wert":61.5},{"tag":326,"reihe":"Viscom","wert":61.7},{"tag":328,"reihe":"Viscom","wert":62.0},{"tag":330,"reihe":"Viscom","wert":62.0},{"tag":332,"reihe":"Viscom","wert":63.4},{"tag":333,"reihe":"Viscom","wert":64.7},{"tag":334,"reihe":"Viscom","wert":67.7},{"tag":336,"reihe":"Viscom","wert":67.8},{"tag":338,"reihe":"Viscom","wert":68.8},{"tag":339,"reihe":"Viscom","wert":70.8},{"tag":340,"reihe":"Viscom","wert":67.9},{"tag":342,"reihe":"Viscom","wert":66.8},{"tag":343,"reihe":"Viscom","wert":67.9},{"tag":345,"reihe":"Viscom","wert":67.8},{"tag":346,"reihe":"Viscom","wert":67.8},{"tag":347,"reihe":"Viscom","wert":69.1},{"tag":349,"reihe":"Viscom","wert":69.3},{"tag":350,"reihe":"Viscom","wert":62.8},{"tag":352,"reihe":"Viscom","wert":65.5},{"tag":353,"reihe":"Viscom","wert":61.8},{"tag":355,"reihe":"Viscom","wert":65.1},{"tag":356,"reihe":"Viscom","wert":66.2},{"tag":357,"reihe":"Viscom","wert":66.3},{"tag":359,"reihe":"Viscom","wert":65.2},{"tag":360,"reihe":"Viscom","wert":62.8},{"tag":362,"reihe":"Viscom","wert":62.5},{"tag":363,"reihe":"Viscom","wert":63.9},{"tag":364,"reihe":"Viscom","wert":64.0},{"tag":365,"reihe":"Viscom","wert":64.1}
  ]},
  "layer": [
    {
      "mark": {"type": "line", "strokeWidth": 2.6, "strokeJoin": "round"},
      "encoding": {
        "x": {
          "field": "tag", "type": "quantitative",
          "scale": {"domain": [0.85, 366], "nice": false, "zero": false},
          "axis": {
            "title": null, "grid": false, "ticks": false, "domain": false,
            "values": [5,20,35,50,68,86,104,121,137,152,168,185,200.1,215.5,231.3,247.7,263.3,280,296.1,311.8,327.3,342.9,359.4],
            "labelExpr": "indexof([5,35,68,104,137,168,200.1,231.3,263.3,296.1,327.3,359.4], datum.value) >= 0 ? ['JAN','FEB','MÄRZ','APRIL','MAI','JUNI','JULI','AUG','SEPT','OKT','NOV','DEZ'][indexof([5,35,68,104,137,168,200.1,231.3,263.3,296.1,327.3,359.4], datum.value)] : '|'",
            "labelFontSize": 19, "labelPadding": 22.5, "labelAngle": 0, "labelFlush": false, "labelOverlap": false
          }
        },
        "y": {
          "field": "wert", "type": "quantitative",
          "scale": {"domain": [45, 105], "nice": false, "zero": false},
          "axis": {
            "title": null, "labels": false, "ticks": false, "domain": false,
            "values": [45,50,55,60,65,70,75,80,85,90,95,100,105],
            "grid": true, "gridColor": "#b5b5b5", "gridWidth": 1.8
          }
        },
        "stroke": {
          "field": "reihe", "type": "nominal",
          "scale": {"domain": ["TecDAX", "DAX", "Viscom"], "range": ["#a6a6a6", "#0f8fcc", "#0a2a55"]},
          "legend": null
        }
      }
    },
    {
      "transform": [{"filter": "datum.tag == 1"}],
      "mark": {"type": "point", "filled": true, "opacity": 0, "shape": "square"},
      "encoding": {
        "x": {"field": "tag", "type": "quantitative"},
        "y": {
          "field": "wert", "type": "quantitative",
          "scale": {"domain": [46.84, 103.53], "nice": false, "zero": false},
          "axis": {
            "orient": "left", "title": null, "grid": false, "ticks": false, "domain": false,
            "values": [50,55,60,65,70,75,80,85,90,95,100],
            "labelExpr": "datum.value + ' %'",
            "labelFontSize": 19, "labelPadding": 20
          }
        },
        "fill": {
          "field": "reihe", "type": "nominal",
          "scale": {"domain": ["Viscom", "DAX", "TecDAX"], "range": ["#000000", "#0f8fcc", "#a6a6a6"]},
          "legend": {
            "title": null, "orient": "none", "legendX": -76, "legendY": -61,
            "direction": "horizontal", "symbolType": "square", "symbolSize": 279,
            "symbolOpacity": 1, "symbolStrokeWidth": 0,
            "labelFontSize": 21, "labelColor": "#222222", "labelOffset": 6, "labelLimit": 500,
            "columnPadding": 81,
            "labelExpr": "datum.label == 'Viscom' ? 'Viscom (Xetra): 64,1 %' : datum.label == 'DAX' ? 'DAX (Xetra): 86,9 %' : 'TecDAX (Perf.) (Xetra): 74,4 %'"
          }
        }
      }
    }
  ],
  "resolve": {"scale": {"y": "independent"}, "axis": {"y": "independent"}}
}
